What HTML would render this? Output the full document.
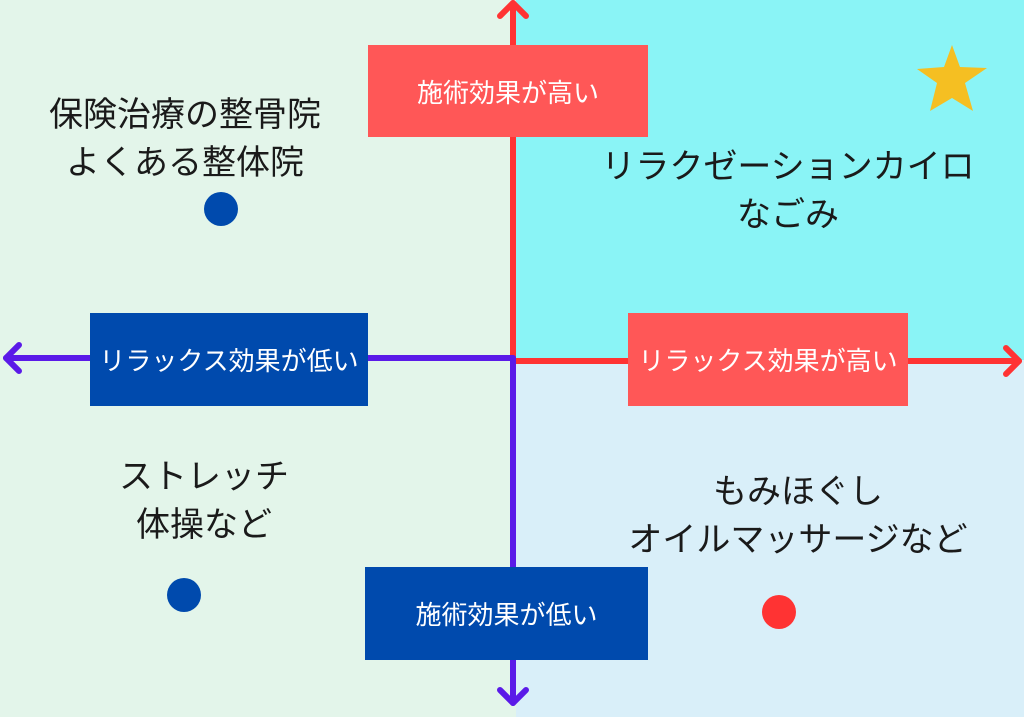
<!DOCTYPE html>
<html><head><meta charset="utf-8"><style>
body{margin:0;width:1024px;height:717px;position:relative;overflow:hidden;background:#e3f5ea;font-family:"Liberation Sans","Noto Sans CJK JP",sans-serif}
.q{position:absolute}
.box{position:absolute;color:#fff;font-size:26px;display:flex;align-items:center;justify-content:center;white-space:nowrap}
.t{position:absolute;font-size:34px;color:#1a1a1a;text-align:center;line-height:48px;white-space:nowrap}
.dot{position:absolute;border-radius:50%}
</style></head><body>
<div class="q" style="left:516px;top:0;width:508px;height:360px;background:#8af4f6"></div>
<div class="q" style="left:516px;top:360px;width:508px;height:357px;background:#d9eff9"></div>
<svg class="q" style="left:0;top:0" width="1024" height="717">
<g stroke-linecap="round" stroke-linejoin="round" fill="none" stroke-width="6">
<line x1="513" y1="3" x2="513" y2="358" stroke="#ff3333"/>
<polyline points="500,16 513,3 526,16" stroke="#ff3333"/>
<line x1="513" y1="361" x2="1019" y2="361" stroke="#ff3333"/>
<polyline points="1006,348 1019,361 1006,374" stroke="#ff3333"/>
<line x1="6" y1="358" x2="513" y2="358" stroke="#5a1ae8"/>
<polyline points="19,345 6,358 19,371" stroke="#5a1ae8"/>
<line x1="513" y1="358" x2="513" y2="703" stroke="#5a1ae8"/>
<polyline points="500,690 513,703 526,690" stroke="#5a1ae8"/>
</g>
<polygon fill="#f5bf22" points="952,45 960,67 987,68 965,83 973,111 952,98 930,111 937,83 917,69 944,67"/>
</svg>
<div class="box" style="left:368px;top:45px;width:280px;height:92px;background:#ff5757">施術効果が高い</div>
<div class="box" style="left:90px;top:313px;width:278px;height:93px;background:#004aad">リラックス効果が低い</div>
<div class="box" style="left:628px;top:313px;width:280px;height:93px;background:#ff5757">リラックス効果が高い</div>
<div class="box" style="left:365px;top:567px;width:283px;height:93px;background:#004aad">施術効果が低い</div>
<div class="t" style="left:35px;width:300px;top:91px">保険治療の整骨院<br>よくある整体院</div>
<div class="t" style="left:588px;width:400px;top:143px">リラクゼーションカイロ<br>なごみ</div>
<div class="t" style="left:54px;width:300px;top:453px">ストレッチ<br>体操など</div>
<div class="t" style="left:598px;width:400px;top:468px">もみほぐし<br>オイルマッサージなど</div>
<div class="dot" style="left:204px;top:192px;width:34px;height:34px;background:#004aad"></div>
<div class="dot" style="left:167px;top:578px;width:34px;height:34px;background:#004aad"></div>
<div class="dot" style="left:762px;top:595px;width:34px;height:34px;background:#ff3333"></div>
</body></html>
